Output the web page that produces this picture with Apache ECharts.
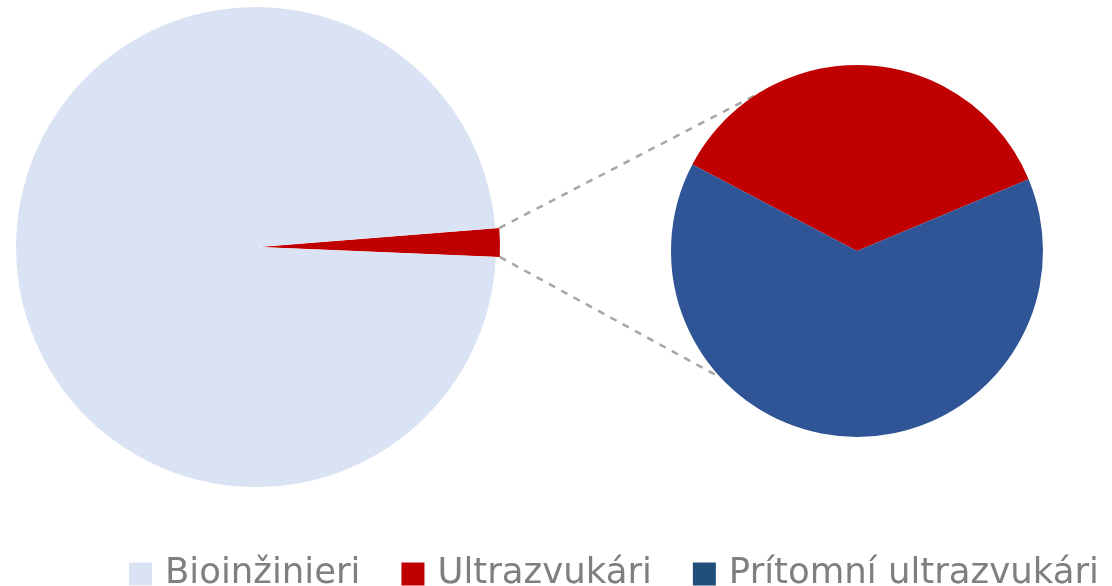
<!DOCTYPE html>
<html>
<head>
<meta charset="utf-8">
<script src="https://cdn.jsdelivr.net/npm/echarts@6/dist/echarts.min.js"></script>
<style>
  html, body { margin: 0; padding: 0; background: #fff; }
  #chart { width: 1112px; height: 586px; }
</style>
</head>
<body>
<div id="chart"></div>
<script>
// hodnoty odčítané z obrázka
var names = ['Bioinžinieri', 'Ultrazvukári', 'Prítomní ultrazvukári'];
var mainValues = [1280];          // Bioinžinieri
var splitValues = [9, 16];        // Ultrazvukári, Prítomní ultrazvukári
var colors = ['#DAE3F3', '#C00000', '#2F5597'];
var legendColors = ['#DAE3F3', '#C00000', '#1F4E79'];

var big = {cx: 256, cy: 247, r: 240, offset: 4};
var small = {cx: 857, cy: 251, r: 186};

var other = splitValues[0] + splitValues[1];
var total = mainValues[0] + other;
var otherAngle = 360 * other / total;
var bigStart = 4.5;               // horná hrana výseku
var smallStart = 152.3;

function rad(a) { return a * Math.PI / 180; }

// spojnice: od rohov výseku k menšiemu koláču
var a1 = rad(bigStart), a2 = rad(bigStart - otherAngle);
var ox = big.cx + big.offset * Math.cos(rad(bigStart - otherAngle / 2));
var oy = big.cy - big.offset * Math.sin(rad(bigStart - otherAngle / 2));
var p1 = [ox + big.r * Math.cos(a1), oy - big.r * Math.sin(a1)];
var p2 = [ox + big.r * Math.cos(a2), oy - big.r * Math.sin(a2)];
var q1 = [small.cx + small.r * Math.cos(rad(123)), small.cy - small.r * Math.sin(rad(123))];
var q2 = [small.cx + small.r * Math.cos(rad(223)), small.cy - small.r * Math.sin(rad(223))];

var chart = echarts.init(document.getElementById('chart'));
var lineStyle = {stroke: '#A6A6A6', lineWidth: 2.5, lineDash: [7, 7]};

chart.setOption({
  animation: false,
  legend: {
    data: names.map(function (n, i) {
      return {name: n, itemStyle: {color: legendColors[i]}};
    }),
    left: 129,
    top: 556,
    padding: 0,
    icon: 'rect',
    itemWidth: 23,
    itemHeight: 23,
    itemGap: 41,
    selectedMode: false,
    textStyle: {
      color: '#7F7F7F',
      fontSize: 35.5,
      fontFamily: '"DejaVu Sans", sans-serif',
      padding: [0, 0, 0, 8]
    }
  },
  graphic: [
    {type: 'line', z: 1, shape: {x1: p1[0], y1: p1[1], x2: q1[0], y2: q1[1]}, style: lineStyle},
    {type: 'line', z: 1, shape: {x1: p2[0], y1: p2[1], x2: q2[0], y2: q2[1]}, style: lineStyle}
  ],
  series: [
    {
      type: 'pie',
      center: [big.cx, big.cy],
      radius: big.r,
      startAngle: bigStart,
      clockwise: true,
      selectedMode: 'single',
      selectedOffset: big.offset,
      label: {show: false},
      labelLine: {show: false},
      emphasis: {disabled: true},
      data: [
        {name: names[1], value: other, selected: true, itemStyle: {color: colors[1]}},
        {name: names[0], value: mainValues[0], itemStyle: {color: colors[0]}}
      ]
    },
    {
      type: 'pie',
      center: [small.cx, small.cy],
      radius: small.r,
      startAngle: smallStart,
      clockwise: true,
      label: {show: false},
      labelLine: {show: false},
      emphasis: {disabled: true},
      z: 3,
      data: [
        {name: names[1], value: splitValues[0], itemStyle: {color: colors[1]}},
        {name: names[2], value: splitValues[1], itemStyle: {color: colors[2]}}
      ]
    }
  ]
});
</script>
</body>
</html>
